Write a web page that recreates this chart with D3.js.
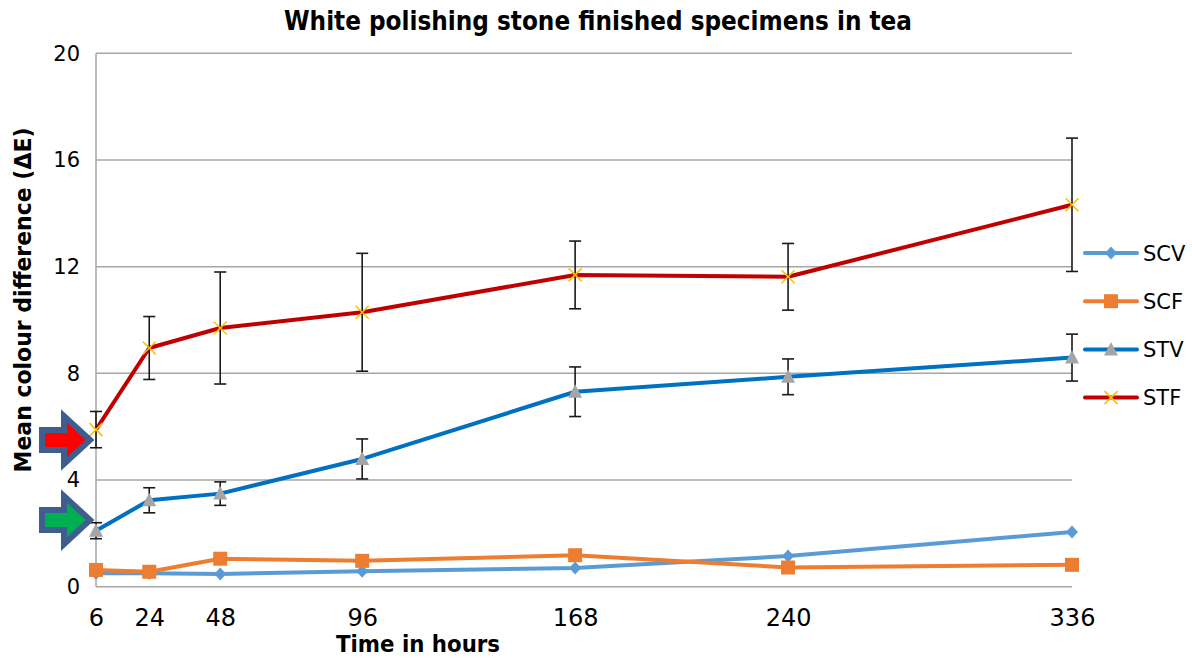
<!DOCTYPE html>
<html>
<head>
<meta charset="utf-8">
<script src="https://cdn.jsdelivr.net/npm/d3@7/dist/d3.min.js"></script>
<style>
  html, body { margin: 0; padding: 0; background: #fff; }
  svg { display: block; }
</style>
</head>
<body>
<svg id="chart" width="1192" height="659"></svg>
<script>
// Exposure times (hours) and mean colour difference per specimen group
const hours = [6, 24, 48, 96, 168, 240, 336];
const seriesNames = ["SCV", "SCF", "STV", "STF"];
const scv = [0.50, 0.50, 0.48, 0.58, 0.70, 1.15, 2.05];
const scf = [0.63, 0.56, 1.05, 0.97, 1.18, 0.72, 0.82];
const stv = [2.10, 3.24, 3.49, 4.79, 7.31, 7.87, 8.59];
const stf = [5.89, 8.95, 9.70, 10.29, 11.69, 11.62, 14.32];
// Error bar half-widths (standard deviation)
const stvErr = [0.30, 0.47, 0.44, 0.75, 0.93, 0.67, 0.88];
const stfErr = [0.68, 1.18, 2.10, 2.21, 1.27, 1.25, 2.50];
const yTicks = [0, 4, 8, 12, 16, 20];
// Highlight arrows pointing at the 6-hour readings
const arrowLevels = [5.5, 2.5];

const styles = {
  SCV: { line: "#5B9BD5", marker: "diamond", fill: "#5B9BD5" },
  SCF: { line: "#ED7D31", marker: "square", fill: "#ED7D31" },
  STV: { line: "#0070C0", marker: "triangle", fill: "#A5A5A5" },
  STF: { line: "#C00000", marker: "cross", fill: "#FFC000" }
};
const arrowFills = ["#FF0000", "#00B050"];

const seriesValues = { SCV: scv, SCF: scf, STV: stv, STF: stf };
const seriesErrors = { STV: stvErr, STF: stfErr };

const svg = d3.select("#chart");
const x = d3.scaleLinear().domain([6, 336]).range([96, 1072]);
const y = d3.scaleLinear().domain([0, 20]).range([586.7, 53.3]);

const font = "'DejaVu Sans', 'Liberation Sans', sans-serif";

// Horizontal gridlines
svg.append("g").selectAll("line")
  .data(yTicks)
  .join("line")
  .attr("x1", x(6)).attr("x2", x(336))
  .attr("y1", d => y(d)).attr("y2", d => y(d))
  .attr("stroke", "#A6A6A6").attr("stroke-width", 1.5);

// Vertical axis line
svg.append("line")
  .attr("x1", x(6)).attr("x2", x(6))
  .attr("y1", y(0)).attr("y2", y(20))
  .attr("stroke", "#A6A6A6").attr("stroke-width", 1.5);

// Y tick labels
const yAxis = d3.axisLeft(y).tickValues(yTicks).tickSize(0).tickPadding(16);
const gy = svg.append("g").attr("transform", `translate(${x(6)},0)`).call(yAxis);
gy.select(".domain").remove();
gy.selectAll("text").attr("font-family", font).attr("font-size", 21).attr("fill", "#000");

// X tick labels at the sampled times
const xAxis = d3.axisBottom(x).tickValues(hours).tickSize(0).tickPadding(22);
const gx = svg.append("g").attr("transform", `translate(0,${y(0)})`).call(xAxis);
gx.select(".domain").remove();
gx.selectAll("text").attr("font-family", font).attr("font-size", 24).attr("fill", "#000");

// Titles
svg.append("text")
  .attr("x", 598).attr("y", 30)
  .attr("text-anchor", "middle")
  .attr("font-family", font).attr("font-weight", "bold").attr("font-size", 26)
  .attr("textLength", 628).attr("lengthAdjust", "spacingAndGlyphs")
  .text("White polishing stone finished specimens in tea");

svg.append("text")
  .attr("x", 418).attr("y", 652)
  .attr("text-anchor", "middle")
  .attr("font-family", font).attr("font-weight", "bold").attr("font-size", 23)
  .attr("textLength", 164).attr("lengthAdjust", "spacingAndGlyphs")
  .text("Time in hours");

svg.append("text")
  .attr("transform", "translate(31,300) rotate(-90)")
  .attr("text-anchor", "middle")
  .attr("font-family", font).attr("font-weight", "bold").attr("font-size", 23)
  .attr("textLength", 345).attr("lengthAdjust", "spacingAndGlyphs")
  .text("Mean colour difference (ΔE)");

// Marker drawing helper
function drawMarker(g, kind, fill) {
  if (kind === "diamond") {
    g.append("path").attr("d", "M0,-6.5L6,0L0,6.5L-6,0Z").attr("fill", fill);
  } else if (kind === "square") {
    g.append("rect").attr("x", -7).attr("y", -7).attr("width", 14).attr("height", 14).attr("fill", fill);
  } else if (kind === "triangle") {
    g.append("path").attr("d", "M0,-7.5L7,6L-7,6Z").attr("fill", fill);
  } else if (kind === "cross") {
    g.append("path").attr("d", "M-6.5,-6.5L6.5,6.5M-6.5,6.5L6.5,-6.5")
      .attr("stroke", fill).attr("stroke-width", 1.6).attr("fill", "none");
  }
}

const line = d3.line().x(d => x(d.h)).y(d => y(d.v));

seriesNames.forEach(name => {
  const st = styles[name];
  const pts = hours.map((h, i) => ({ h, v: seriesValues[name][i], e: seriesErrors[name] ? seriesErrors[name][i] : null }));
  const g = svg.append("g");

  g.append("path").datum(pts)
    .attr("d", line)
    .attr("fill", "none").attr("stroke", st.line)
    .attr("stroke-width", 4).attr("stroke-linejoin", "round");

  if (seriesErrors[name]) {
    const eb = g.append("g").selectAll("g").data(pts).join("g")
      .attr("stroke", "#1a1a1a").attr("stroke-width", 1.6);
    eb.append("line")
      .attr("x1", d => x(d.h)).attr("x2", d => x(d.h))
      .attr("y1", d => y(d.v + d.e)).attr("y2", d => y(d.v - d.e));
    eb.append("line")
      .attr("x1", d => x(d.h) - 6).attr("x2", d => x(d.h) + 6)
      .attr("y1", d => y(d.v + d.e)).attr("y2", d => y(d.v + d.e));
    eb.append("line")
      .attr("x1", d => x(d.h) - 6).attr("x2", d => x(d.h) + 6)
      .attr("y1", d => y(d.v - d.e)).attr("y2", d => y(d.v - d.e));
  }

  g.append("g").selectAll("g").data(pts).join("g")
    .attr("transform", d => `translate(${x(d.h)},${y(d.v)})`)
    .each(function () { drawMarker(d3.select(this), st.marker, st.fill); });
});

// Legend
const legend = svg.append("g").attr("transform", "translate(1085,0)");
seriesNames.forEach((name, i) => {
  const st = styles[name];
  const ly = 253 + i * 48.2;
  const row = legend.append("g").attr("transform", `translate(0,${ly})`);
  row.append("line").attr("x1", 0).attr("x2", 52).attr("y1", 0).attr("y2", 0)
    .attr("stroke", st.line).attr("stroke-width", 4).attr("stroke-linecap", "round");
  drawMarker(row.append("g").attr("transform", "translate(26,0)"), st.marker, st.fill);
  row.append("text").attr("x", 58).attr("y", 0).attr("dy", "0.36em")
    .attr("font-family", font).attr("font-size", 21).attr("fill", "#000")
    .text(name);
});

// Block arrows pointing at the first time point
arrowLevels.forEach((lvl, i) => {
  const tx = x(6) - 6, ty = y(lvl);
  const p = d3.path();
  p.moveTo(tx, ty);
  p.lineTo(tx - 26, ty - 24);
  p.lineTo(tx - 26, ty - 10);
  p.lineTo(tx - 48, ty - 10);
  p.lineTo(tx - 48, ty + 10);
  p.lineTo(tx - 26, ty + 10);
  p.lineTo(tx - 26, ty + 24);
  p.closePath();
  svg.append("path").attr("d", p.toString())
    .attr("fill", arrowFills[i]).attr("stroke", "#3D5E8E")
    .attr("stroke-width", 6).attr("stroke-linejoin", "miter");
});
</script>
</body>
</html>
